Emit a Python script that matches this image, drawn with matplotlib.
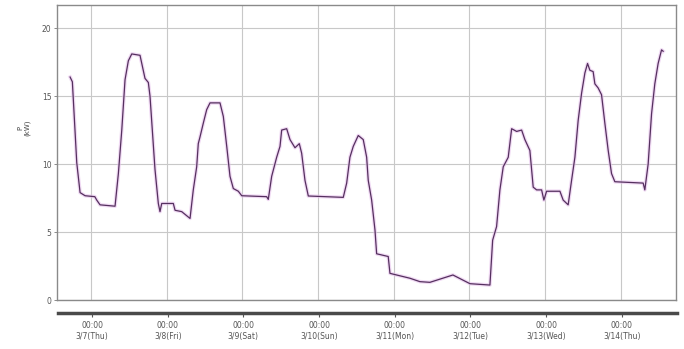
import numpy as np
import matplotlib.pyplot as plt

# time in days from 3/7 00:00, power in kW
days = [-0.277, -0.247, -0.189, -0.145, -0.079, 0.05, 0.075, 0.119, 0.317, 0.361, 0.406,
        0.449, 0.493, 0.538, 0.647, 0.678, 0.713, 0.757, 0.779, 0.845, 0.889,
        0.911, 0.934, 1.087, 1.110, 1.198, 1.308, 1.351, 1.396, 1.417, 1.440,
        1.483, 1.528, 1.572, 1.704, 1.748, 1.793, 1.836, 1.880, 1.946, 1.991,
        2.321, 2.342, 2.387, 2.453, 2.497, 2.519, 2.585, 2.629, 2.695, 2.752,
        2.783, 2.827, 2.871, 3.333, 3.378, 3.421, 3.465, 3.531, 3.597, 3.642,
        3.663, 3.708, 3.752, 3.774, 3.927, 3.950, 4.038, 4.214, 4.346, 4.478,
        4.782, 5.007, 5.271, 5.307, 5.359, 5.403, 5.447, 5.513, 5.558, 5.624,
        5.690, 5.733, 5.799, 5.843, 5.888, 5.954, 5.984, 6.020, 6.196, 6.239,
        6.305, 6.350, 6.394, 6.437, 6.482, 6.526, 6.561, 6.592, 6.635, 6.658,
        6.701, 6.746, 6.790, 6.834, 6.878, 6.922, 7.296, 7.318, 7.362, 7.407,
        7.450, 7.494, 7.539, 7.560]
power = [16.4, 16.05, 10.1, 7.9, 7.67, 7.6, 7.35, 7.0, 6.9, 9.3, 12.5,
         16.2, 17.6, 18.1, 18.0, 17.2, 16.3, 16.0, 15.0, 9.6, 7.1,
         6.5, 7.1, 7.1, 6.6, 6.5, 6.0, 8.1, 9.8, 11.5, 12.0,
         13.0, 14.0, 14.5, 14.5, 13.5, 11.3, 9.1, 8.2, 8.0, 7.67,
         7.6, 7.4, 9.1, 10.5, 11.3, 12.5, 12.6, 11.8, 11.2, 11.5,
         10.8, 8.8, 7.65, 7.55, 8.6, 10.5, 11.3, 12.1, 11.8, 10.5,
         8.8, 7.35, 5.15, 3.4, 3.2, 1.96, 1.84, 1.6, 1.35, 1.3,
         1.84, 1.2, 1.1, 4.4, 5.4, 8.1, 9.8, 10.5, 12.6, 12.4,
         12.5, 11.8, 11.0, 8.3, 8.1, 8.1, 7.35, 8.0, 8.0, 7.35,
         7.0, 8.8, 10.5, 13.2, 15.2, 16.7, 17.4, 16.9, 16.8, 15.9,
         15.6, 15.1, 13.0, 11.0, 9.3, 8.7, 8.6, 8.1, 10.0, 13.7,
         15.9, 17.4, 18.4, 18.3]
day_labels = ["3/7(Thu)", "3/8(Fri)", "3/9(Sat)", "3/10(Sun)",
              "3/11(Mon)", "3/12(Tue)", "3/13(Wed)", "3/14(Thu)"]
y_ticks = [0, 5, 10, 15, 20]

W, H = 684, 349
fig = plt.figure(figsize=(W / 100, H / 100), dpi=100)
# plot area in pixels: left 57, right 676, top 5, bottom 300
ax = fig.add_axes([57 / W, 1 - 300 / H, (676 - 57) / W, (300 - 5) / H])

ax.plot(days, power, color="#e6c0ec", lw=2.6, alpha=0.6, zorder=2)
ax.plot(days, power, color="#55305f", lw=0.9, zorder=3)

ax.set_xlim(-0.45, 7.73)
ax.set_ylim(0, 21.7)
ax.set_yticks(y_ticks)
ax.set_yticklabels([str(v) for v in y_ticks], fontsize=5.5, color="#555555")
ax.set_xticks(range(len(day_labels)))
ax.tick_params(axis="x", length=0, labelbottom=False)
ax.tick_params(axis="y", length=2, width=0.6, color="#777777", pad=2)
ax.grid(True, color="#c8c8c8", lw=0.8)
for s in ax.spines.values():
    s.set_color("#8a8a8a")
    s.set_linewidth(1.0)

# separate time axis bar below the plot
tax = fig.add_axes([58 / W, 1 - 313 / H, (677 - 58) / W, 0.0001], sharex=ax)
for name in ["top", "left", "right"]:
    tax.spines[name].set_visible(False)
tax.spines["bottom"].set_color("#4a4a4a")
tax.spines["bottom"].set_linewidth(2.5)
tax.set_yticks([])
tax.tick_params(axis="x", length=3, width=0.8, color="#555555", pad=3,
                labelsize=5.5, labelcolor="#555555", labelbottom=True)
tax.set_xticks(range(len(day_labels)))
tax.set_xticklabels(["00:00\n" + d for d in day_labels], linespacing=1.3)

fig.text(24 / W, 1 - 128 / H, "P\n(kW)", rotation=90, fontsize=5,
         ha="center", va="center", color="#444444")

fig.savefig("out.png", dpi=100)
